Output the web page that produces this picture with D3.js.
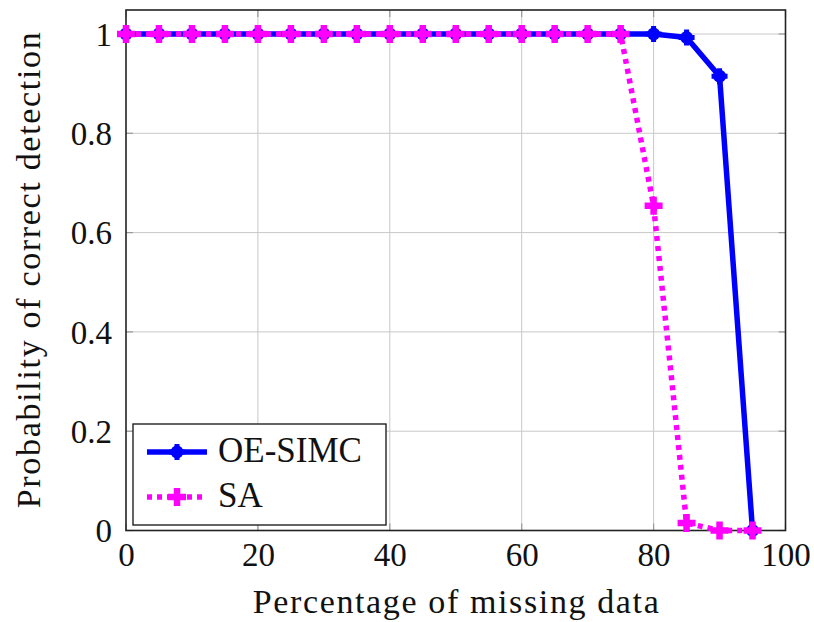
<!DOCTYPE html>
<html><head><meta charset="utf-8">
<script src="https://cdn.jsdelivr.net/npm/d3@7"></script>
</head>
<body>
<svg id="fig" width="814" height="622" style="position:absolute;left:0;top:0;background:#fff"></svg>
<script>
// Percentage of missing data (x) and detection probability for each method
const missing = [0, 5, 10, 15, 20, 25, 30, 35, 40, 45, 50, 55, 60, 65, 70, 75, 80, 85, 90, 95];
const oeSimc  = [1, 1, 1, 1, 1, 1, 1, 1, 1, 1, 1, 1, 1, 1, 1, 1, 1, 0.993, 0.915, 0];
const sa      = [1, 1, 1, 1, 1, 1, 1, 1, 1, 1, 1, 1, 1, 1, 1, 1, 0.654, 0.015, 0, 0];
const xTicks  = [0, 20, 40, 60, 80, 100];
const yTicks  = [0, 0.2, 0.4, 0.6, 0.8, 1];
const seriesNames = ["OE-SIMC", "SA"];

const FONT = "Liberation Serif";
const svg = d3.select("#fig");
const pLeft = 126, pRight = 785.5, pTop = 10, pBottom = 530.5;

const x = d3.scaleLinear().domain([0, 100]).range([pLeft, pRight]);
const y = d3.scaleLinear().domain([0, 1]).range([pBottom, pBottom - 496.5]);

function label(sel, size) {
  return sel.attr("font-family", FONT).attr("font-size", size).attr("fill", "#111")
    .style("font-family", "'Liberation Serif'").style("font-size", size + "px");
}

// grid
svg.append("g").selectAll("line").data(xTicks.slice(1, -1)).join("line")
  .attr("x1", d => x(d)).attr("x2", d => x(d)).attr("y1", pTop).attr("y2", pBottom)
  .attr("stroke", "#c8c8c8").attr("stroke-width", 1);
svg.append("g").selectAll("line").data(yTicks.slice(1)).join("line")
  .attr("x1", pLeft).attr("x2", pRight).attr("y1", d => y(d)).attr("y2", d => y(d))
  .attr("stroke", "#c8c8c8").attr("stroke-width", 1);

// inward tick marks on all four sides
const tk = svg.append("g").attr("stroke", "#999").attr("stroke-width", 1.2);
yTicks.forEach(v => {
  tk.append("line").attr("x1", pLeft).attr("x2", pLeft + 7).attr("y1", y(v)).attr("y2", y(v));
  tk.append("line").attr("x1", pRight - 7).attr("x2", pRight).attr("y1", y(v)).attr("y2", y(v));
});
xTicks.forEach(v => {
  tk.append("line").attr("x1", x(v)).attr("x2", x(v)).attr("y1", pBottom).attr("y2", pBottom - 7);
  tk.append("line").attr("x1", x(v)).attr("x2", x(v)).attr("y1", pTop).attr("y2", pTop + 7);
});

// axes with labels only (frame drawn separately)
const xAxis = d3.axisBottom(x).tickValues(xTicks).tickSize(0).tickPadding(0).tickFormat(d3.format("d"));
const gx = svg.append("g").attr("transform", `translate(0,${pBottom})`).call(xAxis);
gx.attr("font-family", FONT).attr("font-size", 33);
gx.select(".domain").remove();
label(gx.selectAll("text").attr("dy", null).attr("y", 35), 33);

const yAxis = d3.axisLeft(y).tickValues(yTicks).tickSize(0).tickPadding(14)
  .tickFormat(d => d === 0 || d === 1 ? d3.format("d")(d) : d3.format(".1f")(d));
const gy = svg.append("g").attr("transform", `translate(${pLeft},0)`).call(yAxis);
gy.attr("font-family", FONT).attr("font-size", 33);
gy.select(".domain").remove();
label(gy.selectAll("text").attr("dy", "0.34em"), 33);

// frame
svg.append("rect").attr("x", pLeft).attr("y", pTop).attr("width", pRight - pLeft).attr("height", pBottom - pTop)
  .attr("fill", "none").attr("stroke", "#222").attr("stroke-width", 1.6);

// axis titles
label(svg.append("text").attr("x", (pLeft + pRight) / 2).attr("y", 613).attr("text-anchor", "middle")
  .attr("textLength", 406).attr("lengthAdjust", "spacing"), 34)
  .text("Percentage of missing data");
label(svg.append("text").attr("transform", `translate(40,${(pTop + pBottom) / 2}) rotate(-90)`)
  .attr("text-anchor", "middle").attr("textLength", 476).attr("lengthAdjust", "spacing"), 34)
  .text("Probability of correct detection");

const line = d3.line().x(d => x(d[0])).y(d => y(d[1]));

function circleMark(g, cx, cy) {
  g.append("circle").attr("cx", cx).attr("cy", cy).attr("r", 6.5).attr("fill", "#0000ff");
  g.append("path").attr("d", `M${cx - 8},${cy}H${cx + 8}M${cx},${cy - 8}V${cy + 8}`)
    .attr("stroke", "#0000ff").attr("stroke-width", 5);
}
function plusMark(g, cx, cy) {
  g.append("path").attr("d", `M${cx - 9},${cy}H${cx + 9}M${cx},${cy - 9}V${cy + 9}`)
    .attr("stroke", "#ff00ff").attr("stroke-width", 6.5);
}

// OE-SIMC
const oeData = missing.map((m, i) => [m, oeSimc[i]]);
svg.append("path").datum(oeData).attr("d", line).attr("fill", "none")
  .attr("stroke", "#0000ff").attr("stroke-width", 5.5).attr("stroke-linejoin", "round");
const gOe = svg.append("g");
oeData.forEach(d => circleMark(gOe, x(d[0]), y(d[1])));

// SA
const saData = missing.map((m, i) => [m, sa[i]]);
svg.append("path").datum(saData).attr("d", line).attr("fill", "none")
  .attr("stroke", "#ff00ff").attr("stroke-width", 5.5).attr("stroke-dasharray", "5,5");
const gSa = svg.append("g");
saData.forEach(d => plusMark(gSa, x(d[0]), y(d[1])));

// legend
const lg = svg.append("g");
lg.append("rect").attr("x", 133).attr("y", 424).attr("width", 253).attr("height", 101)
  .attr("fill", "#fff").attr("stroke", "#222").attr("stroke-width", 1.4);
const ly = [452, 497];
lg.append("line").attr("x1", 147).attr("x2", 207).attr("y1", ly[0]).attr("y2", ly[0])
  .attr("stroke", "#0000ff").attr("stroke-width", 5.5);
circleMark(lg, 177, ly[0]);
lg.append("line").attr("x1", 147).attr("x2", 207).attr("y1", ly[1]).attr("y2", ly[1])
  .attr("stroke", "#ff00ff").attr("stroke-width", 5.5).attr("stroke-dasharray", "5,5");
plusMark(lg, 177, ly[1]);
seriesNames.forEach((n, i) => {
  label(lg.append("text").attr("x", 218).attr("y", ly[i] + 10), 35).text(n);
});
</script>
</body></html>
